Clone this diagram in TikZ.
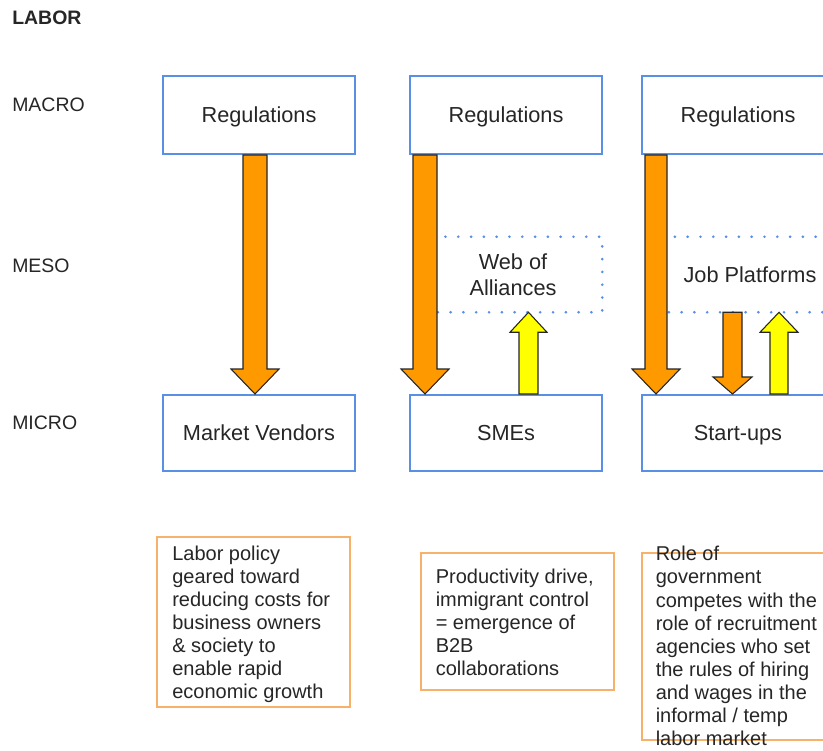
\documentclass[tikz,border=0pt]{standalone}
\usepackage{fontspec}
\setmainfont{Liberation Sans}
\usetikzlibrary{calc}

\definecolor{boxblue}{HTML}{5A8FE6}
\definecolor{notebrd}{HTML}{F6B26B}
\definecolor{arrorange}{HTML}{FF9900}
\definecolor{arryellow}{HTML}{FFFF00}
\definecolor{inkgray}{HTML}{262626}

% vertical block arrow: style, x, tail anchor, tip anchor, shaft half-width, head half-width, head length (pt)
\newcommand\vblock[7]{%
  \coordinate (bt) at (#2,0 |- #3);
  \coordinate (bp) at (#2,0 |- #4);
  \coordinate (bh) at ($(bp)!#7pt!(bt)$);
  \filldraw[#1] ($(bt)+(-#5,0)$) -- ($(bt)+(#5,0)$) -- ($(bh)+(#5,0)$) -- ($(bh)+(#6,0)$)
    -- (bp) -- ($(bh)+(-#6,0)$) -- ($(bh)+(-#5,0)$) -- cycle;
}

\begin{document}
\begin{tikzpicture}[x=0.75pt,y=-0.75pt,
  every node/.style={text=inkgray},
  level/.style={anchor=west, inner sep=0pt, font=\fontsize{14.6}{17}\selectfont},
  actor/.style={draw=boxblue, line width=1.5pt, fill=white, minimum width=144pt,
                text height=11.67pt, text depth=0pt,
                font=\fontsize{16.3}{19}\selectfont},
  toprow/.style={actor, minimum height=58.5pt},
  botrow/.style={actor, minimum height=57pt},
  meso/.style={draw=boxblue, line width=2.2pt, line cap=round, dash pattern=on 0pt off 9.6pt},
  notebox/.style={draw=notebrd, line width=1.5pt, minimum width=144.75pt},
  notetext/.style={anchor=west, inner sep=0pt, align=left, font=\fontsize{15}{17.3}\selectfont},
  downarr/.style={fill=arrorange, draw=inkgray, line width=0.8pt, line join=miter},
  uparr/.style={fill=arryellow, draw=inkgray, line width=0.8pt, line join=miter}]

\clip (0,0) rectangle (823,750);
\fill[white] (0,0) rectangle (823,750);

% level labels
\node[level, font=\fontsize{14.6}{17}\selectfont\bfseries] (labor) at (12,18) {LABOR};
\node[level] (macro) at (12,104.5) {MACRO};
\node[level] (mesolbl) at (12,265.5) {MESO};
\node[level] (micro) at (12,422.5) {MICRO};

% macro level
\node[toprow] (reg1) at (259,115) {Regulations};
\node[toprow] (reg2) at (506,115) {Regulations};
\node[toprow] (reg3) at (738,115) {Regulations};

% meso level (dotted frames)
\node[minimum width=133.5pt, minimum height=56.25pt, inner sep=0pt] (web) at (513,274.5) {};
\draw[meso] (web.north west) rectangle (web.south east);
\node[align=center, font=\fontsize{16.3}{19.5}\selectfont] (webtxt) at (web.center) {Web of\\Alliances};

\node[minimum width=142.5pt, minimum height=56.25pt, inner sep=0pt] (jobs) at (750,274.5) {};
\draw[meso] (jobs.north west) rectangle (jobs.south east);
\node[font=\fontsize{16.3}{19}\selectfont] (jobstxt) at (jobs.center) {Job Platforms};

% micro level
\node[botrow] (mv) at (259,433) {Market Vendors};
\node[botrow] (sme) at (506,433) {SMEs};
\node[botrow] (su) at (738,433) {Start-ups};

% influence arrows
\vblock{downarr}{255}{reg1.south}{mv.north}{12}{24}{18.75}
\vblock{downarr}{425}{reg2.south}{sme.north}{12}{24}{18.75}
\vblock{downarr}{656}{reg3.south}{su.north}{11}{24}{18.75}
\vblock{downarr}{732.5}{jobs.south}{su.north}{9.5}{19.5}{12.75}
\vblock{uparr}{528.5}{sme.north}{web.south}{9.5}{18.5}{15}
\vblock{uparr}{779}{su.north}{jobs.south}{9}{19}{15}

% notes
\node[notebox, minimum height=127.5pt] (n1) at (253.5,622) {};
\node[notetext] (n1txt) at ($(n1.west)+(16,2.5)$) {Labor policy\\geared toward\\reducing costs for\\business owners\\\& society to\\enable rapid\\economic growth};

\node[notebox, minimum height=102.75pt] (n2) at (517,621.5) {};
\node[notetext] (n2txt) at ($(n2.west)+(16,1)$) {Productivity drive,\\immigrant control\\= emergence of\\B2B\\collaborations};

\node[notebox, minimum height=140.25pt] (n3) at (738,646.5) {};
\node[notetext] (n3txt) at ($(n3.west)+(15,-0.5)$) {Role of\\government\\competes with the\\role of recruitment\\agencies who set\\the rules of hiring\\and wages in the\\informal / temp\\labor market};

\end{tikzpicture}
\end{document}
